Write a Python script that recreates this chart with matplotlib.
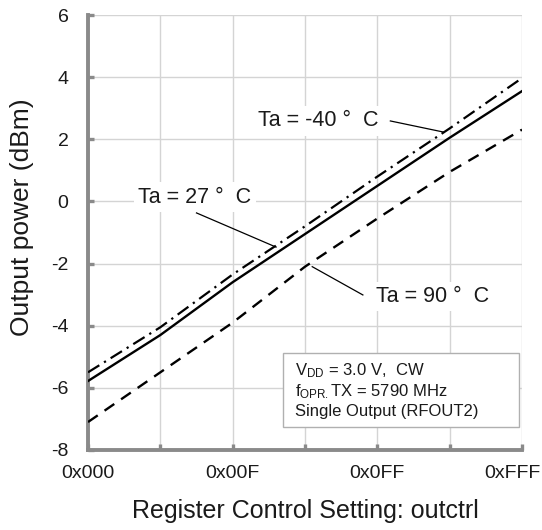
import matplotlib
matplotlib.use("Agg")
import matplotlib.pyplot as plt
from matplotlib.patches import Rectangle
from matplotlib.transforms import ScaledTranslation

plt.rcParams['font.family'] = ['Liberation Sans', 'DejaVu Sans']
plt.rcParams['mathtext.fontset'] = 'custom'
plt.rcParams['mathtext.rm'] = 'Liberation Sans'
plt.rcParams['mathtext.it'] = 'Liberation Sans'
plt.rcParams['axes.unicode_minus'] = False

# Register setting positions (gridline index) and tick labels
x_pos = [0, 1, 2, 3, 4, 5, 6]
tick_pos = [0, 2, 4, 6]
tick_labels = ["0x000", "0x00F", "0x0FF", "0xFFF"]

# Output power (dBm) per temperature
p_m40 = [-5.5, -4.05, -2.35, -0.8, 0.8, 2.35, 3.97]
p_27 = [-5.78, -4.3, -2.6, -1.05, 0.5, 2.05, 3.55]
p_90 = [-7.1, -5.5, -3.9, -2.1, -0.55, 0.95, 2.31]

W, H = 542, 530
fig = plt.figure(figsize=(W / 100, H / 100), dpi=100)
ax = fig.add_axes([88 / W, 1 - 450 / H, (522 - 88) / W, (450 - 15) / H])

grid_c = "#d4d4d4"
spine_c = "#8a8a8a"
txt_c = "#1a1a1a"

ax.set_xlim(0, 6)
ax.set_ylim(-8, 6)
ax.set_yticks(range(-8, 7, 2))
ax.set_xticks(x_pos)
ax.set_xticklabels([tick_labels[tick_pos.index(p)] if p in tick_pos else "" for p in x_pos])
ax.grid(True, color=grid_c, linewidth=1.0, zorder=0)
ax.set_axisbelow(True)

for s in ("top", "right"):
    ax.spines[s].set_visible(False)
for s in ("left", "bottom"):
    ax.spines[s].set_color(spine_c)
    ax.spines[s].set_linewidth(2.8)
ax.tick_params(direction="in", length=4, width=2.4, color=spine_c,
               labelsize=14, labelcolor=txt_c)
ax.tick_params(axis="x", pad=11)
ax.tick_params(axis="y", pad=14)

# keep the last register label inside the canvas
last = ax.get_xticklabels()[-1]
last.set_transform(last.get_transform() + ScaledTranslation(-10 / 100, 0, fig.dpi_scale_trans))

ax.plot(x_pos, p_m40, color="black", linewidth=1.6, linestyle=(0, (6, 2.5, 1, 2.5)), zorder=3)
ax.plot(x_pos, p_27, color="black", linewidth=1.7, linestyle="-", zorder=3)
ax.plot(x_pos, p_90, color="black", linewidth=1.7, linestyle=(0, (5, 3.5)), zorder=3)

ax.set_xlabel("Register Control Setting: outctrl", fontsize=18, color=txt_c, labelpad=12)
ax.set_ylabel("Output power (dBm)", fontsize=19, color=txt_c)
ax.yaxis.set_label_coords(-0.125, 0.535)

bbox = dict(facecolor="white", edgecolor="none", pad=3)
lab_kw = dict(fontsize=15.5, color=txt_c, ha="center", va="center", bbox=bbox, zorder=4)
ax.text(3.18, 2.59, "Ta = -40 °  C", **lab_kw)
ax.text(1.48, 0.14, "Ta = 27 °  C", **lab_kw)
ax.text(4.77, -3.07, "Ta = 90 °  C", **lab_kw)

leader = dict(color="black", linewidth=0.9, zorder=4)
ax.plot([4.18, 4.92], [2.59, 2.23], **leader)
ax.plot([1.5, 2.6], [-0.37, -1.47], **leader)
ax.plot([3.8, 3.1], [-3.01, -2.1], **leader)

# Conditions box
box = Rectangle((283 / W, 1 - 427 / H), (519 - 283) / W, (427 - 353) / H,
                transform=fig.transFigure, facecolor="white", edgecolor="#b0b0b0",
                linewidth=1.0, zorder=5)
fig.patches.append(box)
info = ("V$\\mathregular{_{DD}}$ = 3.0 V,  CW\n"
        "f$\\mathregular{_{OPR.}}$TX = 5790 MHz\n"
        "Single Output (RFOUT2)")
fig.text(295 / W, 1 - 390 / H, info, fontsize=12, color=txt_c, ha="left", va="center",
         linespacing=1.2, zorder=6)

fig.savefig("out.png", dpi=100)
